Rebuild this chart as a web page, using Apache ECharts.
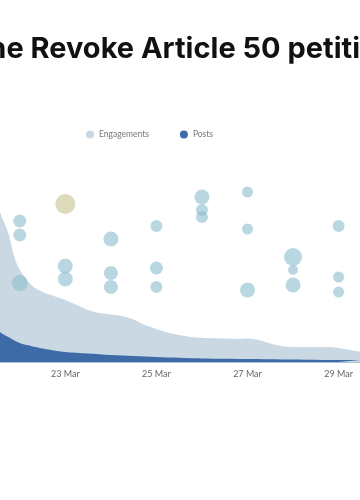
<!DOCTYPE html>
<html><head><meta charset="utf-8">
<script src="https://cdn.jsdelivr.net/npm/echarts@6/dist/echarts.min.js"></script>
<style>html,body{margin:0;padding:0;background:#fff;overflow:hidden}#c{width:360px;height:500px}</style>
</head><body><div id="c"></div>
<script>
// Day-of-March positions and values
const titleText = 'The Revoke Article 50 petition';
const seriesNames = ['Engagements', 'Posts'];
const engDays = [21.0, 21.25, 21.5, 21.566, 21.75, 21.875, 22.0, 22.25, 22.5, 22.75, 23.0, 23.25, 23.5, 23.75, 24.0, 24.25, 24.5, 24.75, 25.0, 25.25, 25.5, 25.75, 26.0, 26.25, 26.5, 26.75, 27.0, 27.25, 27.5, 27.75, 28.0, 28.5, 28.75, 29.0, 29.25, 29.5];
const engValues = [300, 230, 165, 150, 129, 106, 92, 77, 70, 66, 62, 57, 52, 49, 47.5, 46, 42.5, 37, 33, 29.5, 27, 25, 24.3, 23.8, 23.4, 23, 23.5, 22, 18.5, 16, 15, 15, 15, 14, 12, 10];
const postDays = [21.0, 21.25, 21.566, 21.75, 22.0, 22.25, 22.5, 22.75, 23.0, 23.5, 24.0, 24.5, 25.0, 26.0, 27.0, 28.0, 29.0, 29.5];
const postValues = [60, 45, 30, 25, 19, 16, 13.5, 11.5, 10, 8.5, 7, 6, 5, 3.5, 3, 2.5, 2, 2];
const tickDays = [23, 25, 27, 29];
const tickLabels = ['23 Mar', '25 Mar', '27 Mar', '29 Mar'];
// event bubbles: day, level, weight
const bubbleDays = [22, 22, 22, 23, 23, 24, 24, 24, 25, 25, 25, 26, 26, 26, 27, 27, 27, 28, 28, 28, 29, 29, 29];
const bubbleLevels = [141, 127, 79, 96, 83, 123, 89, 75, 136, 94, 75, 165, 152, 145, 170, 133, 72, 105, 92, 77, 136, 85, 70];
const bubbleWeights = [169, 169, 256, 225, 225, 225, 196, 196, 144, 169, 144, 225, 144, 144, 121, 121, 225, 324, 100, 225, 144, 121, 121];
const highlightDays = [23];
const highlightLevels = [158];
const highlightWeights = [400];

const chart = echarts.init(document.getElementById('c'));
const zip = (a, b) => a.map((v, i) => [v, b[i]]);
const zip3 = (a, b, c) => a.map((v, i) => [v, b[i], c[i]]);
chart.setOption({
  animation: false,
  graphic: [{
    type: 'text', left: -31, top: 35,
    style: { text: titleText, font: 'bold 29px Inter, "Noto Sans", sans-serif', fill: '#111' }
  }],
  legend: {
    data: seriesNames, left: 81, top: 125, icon: 'circle', itemWidth: 8, itemHeight: 8, itemGap: 31,
    textStyle: { color: '#777', fontSize: 8.5, fontFamily: 'Lato, sans-serif' }
  },
  grid: { left: 0, right: 0, top: 162, bottom: 138 },
  xAxis: {
    type: 'value', min: 21.566, max: 29.47,
    axisLine: { lineStyle: { color: '#aec3d8', width: 1 } },
    axisTick: { show: false }, splitLine: { show: false },
    axisLabel: {
      customValues: tickDays, color: '#666', fontSize: 9, fontFamily: 'Lato, sans-serif', margin: 8,
      formatter: v => tickLabels[tickDays.indexOf(v)]
    }
  },
  yAxis: { type: 'value', min: 0, max: 200, show: false, splitLine: { show: false } },
  series: [
    { name: seriesNames[0], type: 'line', data: zip(engDays, engValues), smooth: 0.3, showSymbol: false, symbol: 'none',
      lineStyle: { width: 0 }, areaStyle: { color: '#c9d8e3', opacity: 1 }, itemStyle: { color: '#c9d8e3' }, z: 1 },
    { name: seriesNames[1], type: 'line', data: zip(postDays, postValues), smooth: 0.3, showSymbol: false, symbol: 'none',
      lineStyle: { width: 0 }, areaStyle: { color: '#3e6ba8', opacity: 1 }, itemStyle: { color: '#3e6ba8' }, z: 2 },
    { type: 'scatter', data: zip3(bubbleDays, bubbleLevels, bubbleWeights), symbolSize: d => Math.sqrt(d[2]),
      itemStyle: { color: 'rgba(145,192,207,0.8)' }, z: 3 },
    { type: 'scatter', data: zip3(highlightDays, highlightLevels, highlightWeights), symbolSize: d => Math.sqrt(d[2]),
      itemStyle: { color: 'rgba(204,198,150,0.8)' }, z: 3 }
  ]
});
</script></body></html>
